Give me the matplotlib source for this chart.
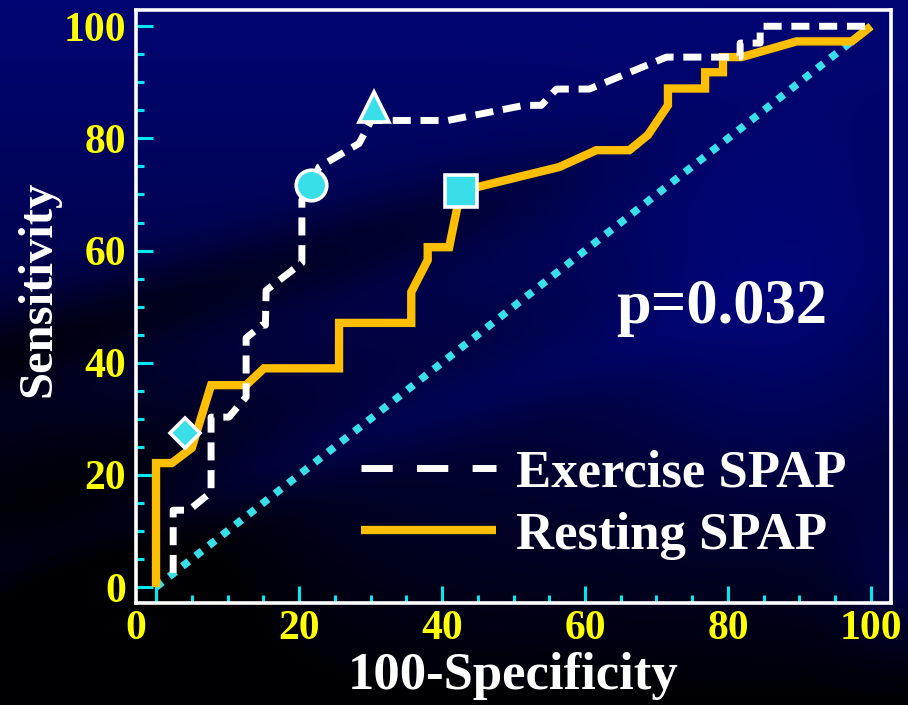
import numpy as np
import matplotlib
matplotlib.use('Agg')
import matplotlib.pyplot as plt
from matplotlib.lines import Line2D
from matplotlib.transforms import ScaledTranslation

# ---------------- data ----------------
exercise_fpr = [2.4, 2.4, 4.6, 7.7, 7.7, 10.2, 12.6, 12.6, 14.8, 15.3, 15.4,
                20.4, 20.4, 21.7, 22.8, 28.4, 30.1, 40.8, 51.5, 53.9, 56.0,
                60.6, 71.4, 81.7, 81.7, 84.5, 84.5, 100]
exercise_tpr = [2.5, 13.7, 13.7, 16.9, 30.3, 30.3, 33.9, 44.4, 46.7, 46.7, 52.9,
                57.8, 69.0, 71.7, 74.9, 79.1, 83.2, 83.2, 85.9, 85.9, 88.8,
                88.8, 94.5, 94.5, 97.0, 97.0, 100, 100]

resting_fpr = [0, 0, 2.2, 5.0, 7.7, 12.6, 15.1, 25.6, 25.6, 35.7, 35.7, 38.0,
               38.0, 41.0, 42.6, 56.4, 61.6, 66.2, 68.8, 71.6, 71.6, 76.8,
               76.8, 79.3, 79.3, 81.9, 89.6, 97.3, 100]
resting_tpr = [0, 22.1, 22.1, 24.8, 36.0, 36.0, 39.0, 39.0, 47.1, 47.1, 52.6, 58.3,
               60.6, 60.6, 70.6, 74.9, 77.9, 77.9, 80.6, 85.9, 88.9, 88.9,
               91.8, 91.8, 94.5, 94.5, 97.3, 97.3, 100]

cut_x = [4.1, 21.7, 30.5, 42.6]
cut_y = [27.5, 71.7, 85.6, 70.6]
cut_marker = ['D', 'o', '^', 's']
cut_size = [15, 22, 21, 23]

ref_line = [0, 100]
x_ticks = [0, 20, 40, 60, 80, 100]
y_ticks = [0, 20, 40, 60, 80, 100]
legend_labels = ['Exercise SPAP', 'Resting SPAP']
p_text = 'p=0.032'

# ---------------- styling ----------------
W, H = 908, 705
fig = plt.figure(figsize=(W / 100, H / 100), dpi=100)


def sig(v, k=12):
    return 1 / (1 + np.exp(-k * v))


# background texture (dark navy with dark streaks)
yy, xx = np.mgrid[0:1:H * 1j, 0:1:W * 1j]
B = 115 * np.clip(1 - yy * 1.0, 0, 1) ** 0.8
B += 40 * np.exp(-((xx - 0.85) ** 2 / 0.03 + (yy - 0.45) ** 2 / 0.06))
B -= 40 * np.exp(-((yy - (0.50 - 0.40 * xx)) ** 2) / 0.004) * sig(0.6 - xx)
B -= 45 * np.exp(-((xx - 0.1) ** 2 / 0.05 + (yy - 0.75) ** 2 / 0.05))
B += 25 * np.exp(-((yy - (0.80 - 0.45 * xx)) ** 2) / 0.003) * sig(0.75 - xx)
B += 35 * np.exp(-((xx - 1.0) ** 2 / 0.005 + (yy - 0.82) ** 2 / 0.01))
B = np.clip(B, 4, 150) / 255.0
bg = np.dstack([np.zeros_like(B), B * 0.04, B])
bgax = fig.add_axes([0, 0, 1, 1], zorder=-10)
bgax.imshow(bg, aspect='auto', extent=[0, 1, 0, 1], interpolation='bilinear')
bgax.axis('off')

left, right, top, bottom = 136 / W, 891 / W, 10 / H, 603 / H
ax = fig.add_axes([left, 1 - bottom, right - left, bottom - top])
ax.set_facecolor('none')

serif = ['Liberation Serif', 'DejaVu Serif']
cyan = '#38dfe8'
tick_cyan = '#00e8f0'
orange = '#ffbf00'

ax.plot(ref_line, ref_line, color=cyan, lw=5.5, dashes=(1.05, 1.15),
        dash_capstyle='butt', zorder=2)
ax.plot(resting_fpr, resting_tpr, color=orange, lw=6, solid_joinstyle='miter',
        solid_capstyle='butt', zorder=3)
ax.plot(exercise_fpr, exercise_tpr, color='white', lw=5, dashes=(2.6, 1.4),
        dash_joinstyle='round', dash_capstyle='butt', zorder=4)
for x, y, m, s in zip(cut_x, cut_y, cut_marker, cut_size):
    ax.plot([x], [y], marker=m, ms=s, mfc=cyan, mec='white', mew=2.6,
            ls='none', zorder=5)

ax.set_xlim(-2.8, 102.8)
ax.set_ylim(-2.85, 102.9)
ax.set_xticks(x_ticks)
ax.set_yticks(y_ticks)
ax.set_xticks(np.arange(0, 101, 5), minor=True)
ax.set_yticks(np.arange(0, 101, 5), minor=True)
ax.tick_params(which='both', direction='in', color=tick_cyan, width=2.2,
               top=False, right=False)
ax.tick_params(which='major', length=12)
ax.tick_params(which='minor', length=6)
ax.tick_params(axis='y', which='major', pad=7)
ax.tick_params(axis='x', which='major', pad=5)
for lab in ax.get_xticklabels() + ax.get_yticklabels():
    lab.set_fontfamily(serif)
    lab.set_fontweight('bold')
    lab.set_fontsize(30)
    lab.set_color('#ffff00')
# the "0" on the x axis sits at the frame corner in the original
xl0 = ax.get_xticklabels()[0]
xl0.set_transform(xl0.get_transform() + ScaledTranslation(-20 / 100, 0, fig.dpi_scale_trans))

for sp in ax.spines.values():
    sp.set_color('white')
    sp.set_linewidth(2.6)

ax.set_xlabel('100-Specificity', fontsize=38, fontweight='bold', color='white',
              fontfamily=serif, labelpad=3)
ax.set_ylabel('Sensitivity', fontsize=35, fontweight='bold', color='white',
              fontfamily=serif, labelpad=2)
ax.yaxis.set_label_coords(-0.1, 0.53)

ax.text(79.1, 47, p_text, ha='center', va='baseline', fontsize=45,
        fontweight='bold', color='white', fontfamily=serif)

handles = [Line2D([], [], color='white', lw=5, dashes=(4.5, 3.5), dash_capstyle='butt'),
           Line2D([], [], color=orange, lw=6, solid_capstyle='butt')]
leg = ax.legend(handles, legend_labels, loc='center left',
                bbox_to_anchor=(0.298, 0.166), frameon=False, handlelength=2.55,
                handletextpad=0.38, labelspacing=0.27, borderpad=0, borderaxespad=0,
                prop={'family': serif, 'weight': 'bold', 'size': 38})
for t in leg.get_texts():
    t.set_color('white')

fig.savefig('out.png', dpi=100, facecolor=fig.get_facecolor())
